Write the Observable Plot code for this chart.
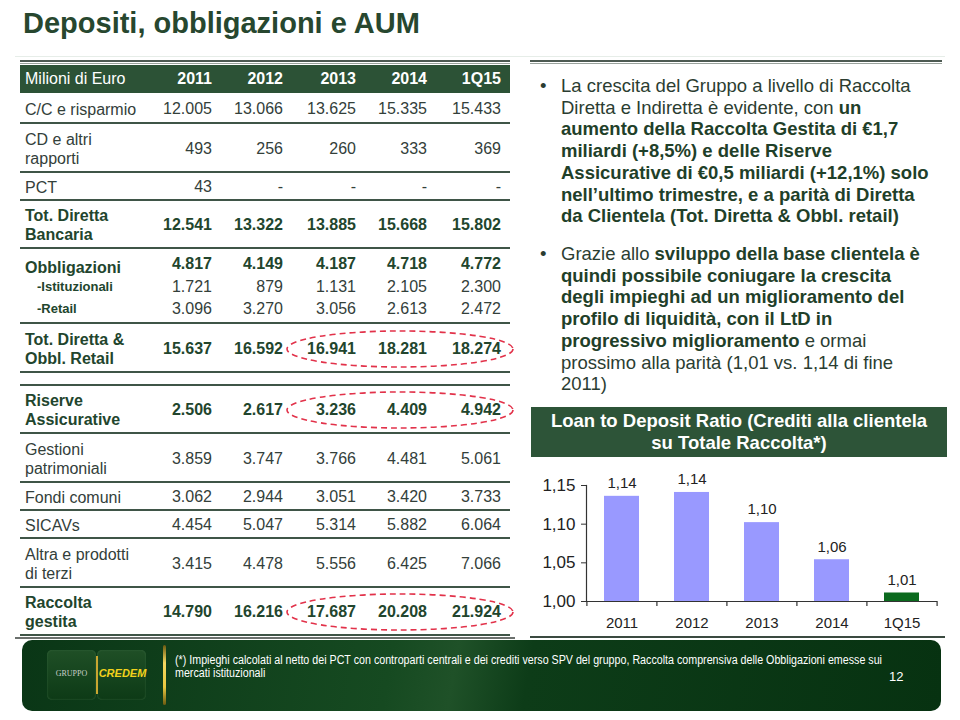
<!DOCTYPE html>
<html><head><meta charset="utf-8">
<script src="https://cdn.jsdelivr.net/npm/d3@7"></script>
<script src="https://cdn.jsdelivr.net/npm/@observablehq/plot@0.6"></script>
<style>
body{margin:0;background:#fff;}
#slide{position:relative;width:960px;height:720px;overflow:hidden;font-family:"Liberation Sans",Arial,Helvetica,sans-serif;background:#fff;}
.abs{position:absolute;white-space:nowrap;}
.b{font-weight:bold;color:#1f4029;}
</style></head><body><div id="slide"></div>
<script>
// ---------------- DATA ----------------
const title = "Depositi, obbligazioni e AUM";
const years = ["2011","2012","2013","2014","1Q15"];
const unitLabel = "Milioni di Euro";
const ccRisparmio = [12005,13066,13625,15335,15433];
const cdAltriRapporti = [493,256,260,333,369];
const pct = [43,null,null,null,null];
const totDirettaBancaria = [12541,13322,13885,15668,15802];
const obbligazioni = [4817,4149,4187,4718,4772];
const istituzionali = [1721,879,1131,2105,2300];
const retail = [3096,3270,3056,2613,2472];
const totDirettaObblRetail = [15637,16592,16941,18281,18274];
const riserveAssicurative = [2506,2617,3236,4409,4942];
const gestioniPatrimoniali = [3859,3747,3766,4481,5061];
const fondiComuni = [3062,2944,3051,3420,3733];
const sicavs = [4454,5047,5314,5882,6064];
const altraProdottiTerzi = [3415,4478,5556,6425,7066];
const raccoltaGestita = [14790,16216,17687,20208,21924];

const ltdTitle = ["Loan to Deposit Ratio (Crediti alla clientela","su Totale Raccolta*)"];
const ltdValues = [1.136,1.141,1.102,1.054,1.011];
const ltdLabels = ["1,14","1,14","1,10","1,06","1,01"];
const yTicks = [1.00,1.05,1.10,1.15];

const footnote = ["(*) Impieghi calcolati al netto dei PCT con controparti centrali e dei crediti verso SPV del gruppo, Raccolta comprensiva delle Obbligazioni emesse sui","mercati istituzionali"];
const pageNumber = "12";

// ---------------- HELPERS ----------------
const slide = document.getElementById("slide");
const fmt = d3.formatLocale({decimal:",",thousands:".",grouping:[3],currency:["€",""]}).format(",d");
function el(html, css){
  const d=document.createElement("div"); d.className="abs"; d.innerHTML=html;
  Object.assign(d.style, css); slide.appendChild(d); return d;
}
function box(css){ const d=document.createElement("div"); d.style.position="absolute"; Object.assign(d.style, css); slide.appendChild(d); return d; }
function textAt(text, x, yc, size, opts={}){
  const lh = opts.lh || size*1.2;
  const lines = Array.isArray(text)?text:[text];
  const h = lh*lines.length;
  const css = {top:(yc-h/2)+"px", fontSize:size+"px", lineHeight:lh+"px",
    fontWeight:opts.bold?"bold":"normal", color:opts.color||"#2e3a32"};
  if(opts.align==="right"){ css.left=(x-200)+"px"; css.width="200px"; css.textAlign="right"; }
  else css.left=x+"px";
  return el(lines.join("<br>"), css);
}

// ---------------- TITLE ----------------
el(title,{left:"23px",top:"7px",fontSize:"29px",fontWeight:"bold",color:"#27472f"});
box({left:"15px",top:"56px",width:"930px",height:"1px",background:"#e6ede8"});

// ---------------- TABLE ----------------
const colRight=[212,283,356,427,501];
box({left:"20px",top:"60px",width:"490px",height:"2px",background:"#4d5a52"});
box({left:"20px",top:"63px",width:"490px",height:"1px",background:"#9aa39d"});
box({left:"20px",top:"65px",width:"490px",height:"28px",background:"#2c5236"});
textAt(unitLabel,25,79,16,{color:"#fff"});
years.forEach((y,i)=>textAt(y,colRight[i],79,16,{color:"#fff",bold:true,align:"right"}));

const tableRows=[
  {label:["C/C e risparmio"],v:ccRisparmio,top:93,bot:123},
  {label:["CD e altri","rapporti"],v:cdAltriRapporti,top:123,bot:172},
  {label:["PCT"],v:pct,top:172,bot:200},
  {label:["Tot. Diretta","Bancaria"],v:totDirettaBancaria,top:200,bot:248,bold:true},
  {label:["Obbligazioni"],v:obbligazioni,yc:264,labelYc:267,bold:true},
  {label:["-Istituzionali"],v:istituzionali,yc:287,small:true},
  {label:["-Retail"],v:retail,yc:309,small:true,sepAt:323},
  {label:["Tot. Diretta &","Obbl. Retail"],v:totDirettaObblRetail,top:323,bot:372,bold:true},
  {label:["Riserve","Assicurative"],v:riserveAssicurative,top:385,bot:433,bold:true},
  {label:["Gestioni","patrimoniali"],v:gestioniPatrimoniali,top:433,bot:482},
  {label:["Fondi comuni"],v:fondiComuni,top:482,bot:510},
  {label:["SICAVs"],v:sicavs,top:510,bot:538},
  {label:["Altra e prodotti","di terzi"],v:altraProdottiTerzi,top:538,bot:587},
  {label:["Raccolta","gestita"],v:raccoltaGestita,top:587,bot:635,bold:true}
];
const boldC="#22452d", regC="#33403a";
tableRows.forEach(r=>{
  const yc = r.yc!==undefined ? r.yc : (r.top+r.bot)/2 + 1;
  const ly = r.labelYc!==undefined ? r.labelYc : yc;
  if(r.small) textAt(r.label,37,ly,13,{bold:true,color:boldC});
  else textAt(r.label,25,ly,16,{bold:r.bold,color:r.bold?boldC:regC,lh:19});
  r.v.forEach((v,i)=>textAt(v==null?"-":fmt(v),colRight[i],yc,16,{bold:r.bold,color:r.bold?boldC:regC,align:"right"}));
  const sep = r.bot!==undefined ? r.bot : r.sepAt;
  if(sep!==undefined) box({left:"20px",top:(sep-1)+"px",width:"490px",height:"1.6px",background:"#3f5547"});
});
box({left:"20px",top:"384px",width:"490px",height:"1.6px",background:"#3f5547"});
box({left:"15px",top:"637px",width:"500px",height:"2px",background:"#6b706d"});

// dashed ellipses
const svgNS="http://www.w3.org/2000/svg";
const ov=document.createElementNS(svgNS,"svg");
ov.setAttribute("width",960);ov.setAttribute("height",720);
ov.style.cssText="position:absolute;left:0;top:0;pointer-events:none;";
[349,410,612].forEach(cy=>{
  const e=document.createElementNS(svgNS,"ellipse");
  e.setAttribute("cx",400);e.setAttribute("cy",cy);e.setAttribute("rx",113);e.setAttribute("ry",18);
  e.setAttribute("fill","none");e.setAttribute("stroke","#e2324a");e.setAttribute("stroke-width",1.6);
  e.setAttribute("stroke-dasharray","6 4");ov.appendChild(e);
});
slide.appendChild(ov);

// ---------------- BULLETS ----------------
box({left:"530px",top:"60px",width:"412px",height:"2px",background:"#4d5a52"});
box({left:"530px",top:"63px",width:"412px",height:"1px",background:"#9aa39d"});
const bulletCss={fontSize:"18.5px",lineHeight:"21.7px",color:"#2b3d31"};
const b1=["La crescita del Gruppo a livello di Raccolta",
 "Diretta e Indiretta è evidente, con <span class='b'>un</span>",
 "<span class='b'>aumento della Raccolta Gestita di €1,7</span>",
 "<span class='b'>miliardi (+8,5%) e delle Riserve</span>",
 "<span class='b'>Assicurative di €0,5 miliardi (+12,1%) solo</span>",
 "<span class='b'>nell’ultimo trimestre, e a parità di Diretta</span>",
 "<span class='b'>da Clientela (Tot. Diretta &amp; Obbl. retail)</span>"];
const b2=["Grazie allo <span class='b'>sviluppo della base clientela è</span>",
 "<span class='b'>quindi possibile coniugare la crescita</span>",
 "<span class='b'>degli impieghi ad un miglioramento del</span>",
 "<span class='b'>profilo di liquidità, con il LtD in</span>",
 "<span class='b'>progressivo miglioramento</span> e ormai",
 "prossimo alla parità (1,01 vs. 1,14 di fine",
 "2011)"];
[[b1,75],[b2,243]].forEach(([lines,top])=>{
  el("•",Object.assign({left:"540px",top:top+"px"},bulletCss));
  el(lines.join("<br>"),Object.assign({left:"561px",top:top+"px"},bulletCss));
});

// ---------------- CHART ----------------
box({left:"531px",top:"407px",width:"416px",height:"50px",background:"#2d5438"});
el(ltdTitle.join("<br>"),{left:"531px",top:"410px",width:"416px",textAlign:"center",fontSize:"18.5px",lineHeight:"22px",fontWeight:"bold",color:"#fff"});

const ltdData = years.map((y,i)=>({year:y,value:ltdValues[i],label:ltdLabels[i],latest:i===years.length-1}));
const W=420,H=170,mL=56,mR=13,mT=20,mB=34;
const step=(W-mL-mR)/years.length;
const yMin=1.0,yMax=1.15;
const tickLen=(yMax-yMin)/(H-mT-mB)*5; // 5px expressed in y units
const chart = Plot.plot({
  width:W,height:H,marginLeft:mL,marginRight:mR,marginTop:mT,marginBottom:mB,
  x:{type:"band",domain:years,paddingInner:0.5,paddingOuter:0.25},
  y:{domain:[yMin,yMax]},
  color:{domain:[false,true],range:["#9999ff","#0b6a1e"]},
  style:{fontFamily:"'Liberation Sans',Arial,sans-serif",fontSize:"15px",color:"#222",background:"transparent",overflow:"visible"},
  marks:[
    Plot.barY(ltdData,{x:"year",y1:yMin,y2:"value",fill:"latest"}),
    Plot.text(ltdData,{x:"year",y:"value",text:"label",dy:-13,fontSize:15,fill:"#222"}),
    Plot.ruleY([yMin],{stroke:"#333",strokeWidth:1.2}),
    Plot.frame({anchor:"left",stroke:"#333",strokeWidth:1.2}),
    Plot.axisY({ticks:yTicks,tickFormat:d=>d.toFixed(2).replace(".",","),tickSize:5,tickPadding:6,fontSize:17,label:null,stroke:"#333"}),
    Plot.axisX({tickSize:0,tickPadding:16,fontSize:15,label:null}),
    Plot.ruleX(years,{x:d=>d,dx:-step/2,y1:yMin,y2:yMin-tickLen,stroke:"#333",strokeWidth:1.2}),
    Plot.ruleX([years[years.length-1]],{x:d=>d,dx:step/2,y1:yMin,y2:yMin-tickLen,stroke:"#333",strokeWidth:1.2})
  ]
});
chart.style.position="absolute";chart.style.left="530px";chart.style.top="465px";
slide.appendChild(chart);
box({left:"530px",top:"636px",width:"415px",height:"2px",background:"#3a4a40"});

// ---------------- FOOTER ----------------
box({left:"22px",top:"640px",width:"919px",height:"71px",borderRadius:"10px",
  background:"linear-gradient(100deg,#0a3616 0%,#164a21 40%,#1f5128 47%,#0d3c18 55%,#073211 100%)"});
box({left:"47px",top:"650px",width:"49px",height:"50px",borderRadius:"5px",background:"linear-gradient(180deg,#1f4f26,#0d3a16)",boxShadow:"inset 0 0 2px #3c6a40"});
box({left:"97px",top:"650px",width:"49px",height:"50px",borderRadius:"5px",background:"linear-gradient(180deg,#1f4f26,#0d3a16)",boxShadow:"inset 0 0 2px #3c6a40"});
box({left:"96px",top:"656px",width:"1.5px",height:"38px",background:"#c9a630"});
el("GRUPPO",{left:"47px",top:"669px",width:"49px",textAlign:"center",fontSize:"8px",color:"#c8cfc8",fontFamily:"'Liberation Serif',serif"});
el("CREDEM",{left:"98px",top:"667px",width:"49px",textAlign:"center",fontSize:"11px",fontWeight:"bold",fontStyle:"italic",color:"#f2d21c"});
box({left:"163px",top:"645px",width:"3px",height:"60px",borderRadius:"2px",background:"linear-gradient(180deg,#6b5a10,#f5d860 30%,#e8c840 70%,#6b5a10)"});
const fn=el(footnote.join("<br>"),{left:"175px",top:"654px",fontSize:"12px",lineHeight:"12.5px",color:"#fff",transformOrigin:"0 0"});
const fw=fn.getBoundingClientRect().width; if(fw>0) fn.style.transform=`scaleX(${707/fw})`;
el(pageNumber,{left:"889px",top:"669px",fontSize:"13px",color:"#fff"});
</script></body></html>
